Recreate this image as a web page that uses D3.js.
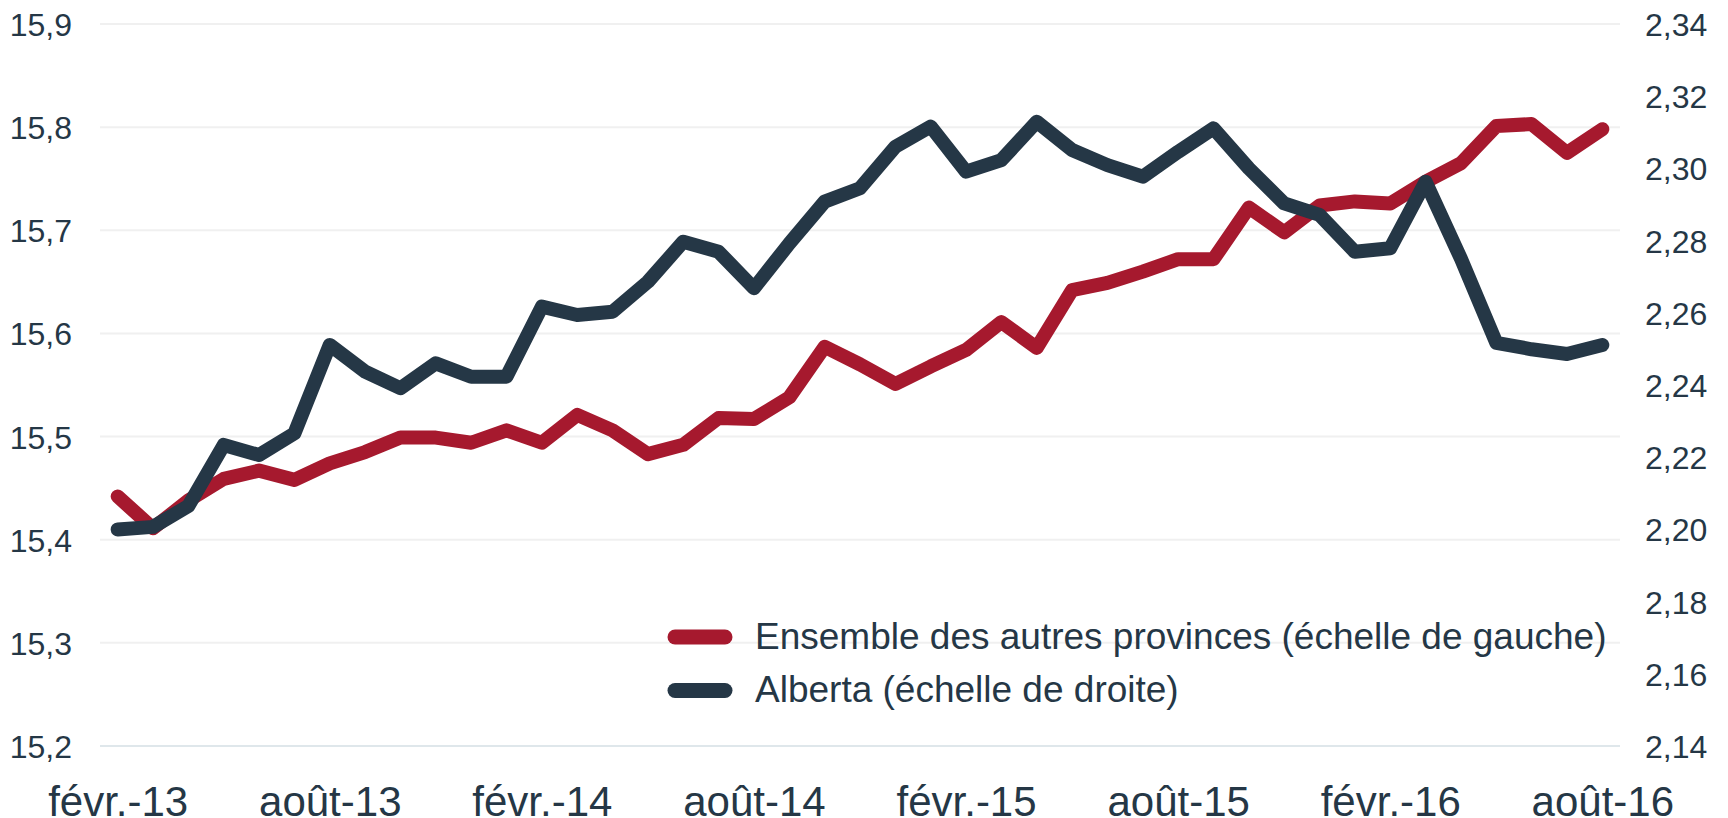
<!DOCTYPE html>
<html>

<head>
  <meta charset="utf-8">
  <title>Ensemble des autres provinces et Alberta</title>
  <script src="https://cdn.jsdelivr.net/npm/d3@7"></script>
  <style>
    body { margin: 0; background: #fff; }
    text { font-family: "Liberation Sans", Arial, sans-serif; fill: #253746; }
  </style>
</head>

<body>
  <script>
    // Taille
    const w = 1728;
    const h = 818;

    // Mois (févr. 2013 à août 2016)
    const months = [
      "févr.-13", "mars-13", "avr.-13", "mai-13", "juin-13", "juil.-13", "août-13", "sept.-13", "oct.-13", "nov.-13", "déc.-13",
      "janv.-14", "févr.-14", "mars-14", "avr.-14", "mai-14", "juin-14", "juil.-14", "août-14", "sept.-14", "oct.-14", "nov.-14", "déc.-14",
      "janv.-15", "févr.-15", "mars-15", "avr.-15", "mai-15", "juin-15", "juil.-15", "août-15", "sept.-15", "oct.-15", "nov.-15", "déc.-15",
      "janv.-16", "févr.-16", "mars-16", "avr.-16", "mai-16", "juin-16", "juil.-16", "août-16"
    ];

    // Ensemble des autres provinces (échelle de gauche)
    const autres = [
      15.442, 15.411, 15.438, 15.459, 15.467, 15.458, 15.474, 15.485, 15.499, 15.499, 15.494,
      15.506, 15.494, 15.521, 15.506, 15.483, 15.492, 15.518, 15.517, 15.538, 15.587, 15.570, 15.551,
      15.568, 15.584, 15.611, 15.586, 15.642, 15.649, 15.660, 15.672, 15.672, 15.722, 15.698, 15.724,
      15.728, 15.726, 15.747, 15.765, 15.801, 15.803, 15.775, 15.798
    ];

    // Alberta (échelle de droite)
    const alberta = [
      2.2000, 2.2007, 2.2065, 2.2234, 2.2206, 2.2266, 2.2511, 2.2437, 2.2391, 2.2460, 2.2423,
      2.2423, 2.2617, 2.2594, 2.2603, 2.2686, 2.2797, 2.2769, 2.2668, 2.2792, 2.2908, 2.2945, 2.3060,
      2.3116, 2.2991, 2.3023, 2.3129, 2.3051, 2.3009, 2.2977, 2.3046, 2.3111, 2.3000, 2.2903, 2.2871,
      2.2769, 2.2779, 2.2963, 2.2750, 2.2517, 2.2499, 2.2486, 2.2511
    ];

    // Graduations
    const leftTicks = [15.2, 15.3, 15.4, 15.5, 15.6, 15.7, 15.8, 15.9];
    const rightTicks = [2.14, 2.16, 2.18, 2.20, 2.22, 2.24, 2.26, 2.28, 2.30, 2.32, 2.34];
    const xTicks = ["févr.-13", "août-13", "févr.-14", "août-14", "févr.-15", "août-15", "févr.-16", "août-16"];

    const legendItems = [
      { label: "Ensemble des autres provinces (échelle de gauche)", color: "#a6192e" },
      { label: "Alberta (échelle de droite)", color: "#253746" }
    ];

    const plotLeft = 100, plotRight = 1620, plotTop = 24, plotBottom = 746;

    const xScale = d3.scalePoint()
      .domain(months)
      .range([plotLeft, plotRight])
      .padding(0.5);

    const yLeft = d3.scaleLinear()
      .domain([15.2, 15.9])
      .range([plotBottom, plotTop]);

    const yRight = d3.scaleLinear()
      .domain([2.14, 2.34])
      .range([plotBottom, plotTop]);

    const fr = d3.formatLocale({ decimal: ",", thousands: " ", grouping: [3], currency: ["", " $"] });

    const svg = d3.select("body")
      .append("svg")
      .attr("width", w)
      .attr("height", h);

    // Lignes de grille
    svg.append("g")
      .selectAll("line")
      .data(leftTicks)
      .enter()
      .append("line")
      .attr("x1", plotLeft)
      .attr("x2", plotRight)
      .attr("y1", d => yLeft(d))
      .attr("y2", d => yLeft(d))
      .attr("stroke", (d, i) => i === 0 ? "#dfe7eb" : "#f0f0f0")
      .attr("stroke-width", 2);

    // Axe de gauche
    const gLeft = svg.append("g")
      .attr("transform", `translate(${plotLeft},0)`)
      .call(d3.axisLeft(yLeft).tickValues(leftTicks).tickSize(0).tickPadding(28).tickFormat(fr.format(".1f")));

    // Axe de droite
    const gRight = svg.append("g")
      .attr("transform", `translate(${plotRight},0)`)
      .call(d3.axisRight(yRight).tickValues(rightTicks).tickSize(0).tickPadding(25).tickFormat(fr.format(".2f")));

    [gLeft, gRight].forEach(g => {
      g.select(".domain").remove();
      g.selectAll("text")
        .attr("dy", "0.36em")
        .style("font-size", "32px")
        .attr("fill", "#253746");
    });

    // Axe des x
    const gx = svg.append("g")
      .attr("transform", `translate(0,${plotBottom})`)
      .call(d3.axisBottom(xScale).tickValues(xTicks).tickSize(0).tickPadding(40));
    gx.select(".domain").remove();
    gx.selectAll("text")
      .style("font-size", "42px")
      .attr("fill", "#253746");

    // Courbes
    const lineLeft = d3.line()
      .x((d, i) => xScale(months[i]))
      .y(d => yLeft(d));

    const lineRight = d3.line()
      .x((d, i) => xScale(months[i]))
      .y(d => yRight(d));

    svg.append("path")
      .datum(autres)
      .attr("d", lineLeft)
      .attr("fill", "none")
      .attr("stroke", "#a6192e")
      .attr("stroke-width", 14)
      .attr("stroke-linecap", "round")
      .attr("stroke-linejoin", "round");

    svg.append("path")
      .datum(alberta)
      .attr("d", lineRight)
      .attr("fill", "none")
      .attr("stroke", "#253746")
      .attr("stroke-width", 14)
      .attr("stroke-linecap", "round")
      .attr("stroke-linejoin", "round");

    // Légende
    const legend = svg.append("g")
      .selectAll("g")
      .data(legendItems)
      .enter()
      .append("g")
      .attr("transform", (d, i) => `translate(675,${637 + i * 53.5})`);

    legend.append("line")
      .attr("x1", 0)
      .attr("x2", 50)
      .attr("stroke", d => d.color)
      .attr("stroke-width", 15)
      .attr("stroke-linecap", "round");

    legend.append("text")
      .attr("x", 80)
      .attr("y", 11.5)
      .style("font-size", "37px")
      .text(d => d.label);
  </script>
</body>

</html>
